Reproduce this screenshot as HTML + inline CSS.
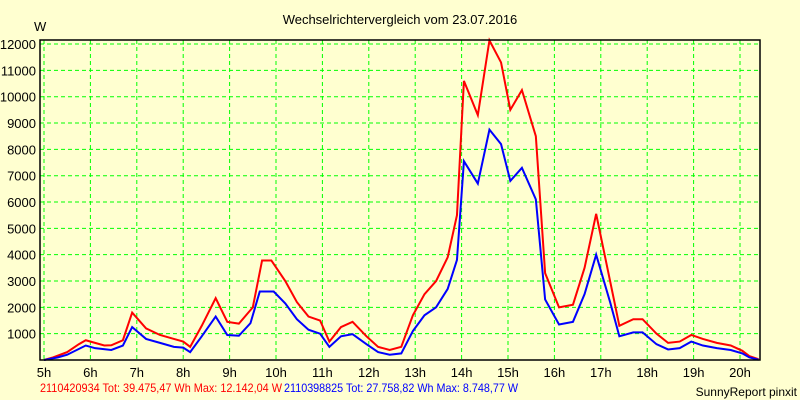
<!DOCTYPE html>
<html><head><meta charset="utf-8"><style>
body{margin:0;background:#ffffd0;}
svg{display:block;font-family:"Liberation Sans",Arial,sans-serif;}
</style></head><body>
<svg id="chart" width="800" height="400">
<rect width="800" height="400" fill="#ffffd0"/>
<text x="400" y="24" text-anchor="middle" font-size="13">Wechselrichtervergleich vom 23.07.2016</text>
<text x="34" y="31" font-size="13">W</text>
<g id="grid"></g><g id="ticks"></g><g id="lines"></g>
<rect x="40" y="40" width="720" height="320" fill="none" stroke="#000" stroke-width="1.5"/>
<text x="40" y="392" font-size="12" fill="#ff0000" textLength="242" lengthAdjust="spacingAndGlyphs">2110420934 Tot: 39.475,47 Wh Max: 12.142,04 W</text>
<text x="284" y="392" font-size="12" fill="#0000ff" textLength="234" lengthAdjust="spacingAndGlyphs">2110398825 Tot: 27.758,82 Wh Max: 8.748,77 W</text>
<text x="797" y="396" text-anchor="end" font-size="12">SunnyReport pinxit</text>
</svg>
<script>
const xHours=[5,6,7,8,9,10,11,12,13,14,15,16,17,18,19,20];
const yTicks=[1000,2000,3000,4000,5000,6000,7000,8000,9000,10000,11000,12000];
const redT=[5,5.2,5.5,5.75,5.9,6.1,6.3,6.45,6.7,6.9,7.2,7.5,7.8,8.0,8.15,8.4,8.7,8.95,9.2,9.5,9.7,9.9,10.2,10.45,10.7,10.95,11.15,11.4,11.65,11.95,12.2,12.45,12.7,12.95,13.2,13.45,13.7,13.9,14.05,14.35,14.6,14.85,15.05,15.3,15.6,15.8,16.1,16.4,16.65,16.9,17.2,17.4,17.7,17.9,18.2,18.45,18.7,18.95,19.2,19.5,19.8,20.05,20.2,20.4];
const redV=[0,100,300,600,750,650,550,560,750,1800,1200,950,800,700,500,1300,2350,1450,1380,2000,3780,3780,3000,2200,1650,1500,700,1250,1450,900,500,380,500,1700,2500,3000,3900,5500,10600,9300,12140,11300,9500,10250,8500,3300,2000,2100,3500,5550,3000,1300,1550,1550,1000,650,700,950,800,650,550,350,150,30];
const blueT=[5,5.3,5.5,5.9,6.1,6.45,6.7,6.9,7.2,7.5,7.8,8.0,8.15,8.4,8.7,8.95,9.2,9.45,9.65,9.95,10.2,10.45,10.7,10.95,11.15,11.4,11.65,11.95,12.2,12.45,12.7,12.95,13.2,13.45,13.7,13.9,14.05,14.35,14.6,14.85,15.05,15.3,15.6,15.8,16.1,16.4,16.65,16.9,17.2,17.4,17.7,17.9,18.2,18.45,18.7,18.95,19.2,19.5,19.8,20.05,20.2,20.4];
const blueV=[0,100,200,550,450,380,550,1250,800,650,500,470,300,900,1650,950,920,1400,2600,2600,2150,1550,1150,1000,500,900,980,600,300,200,250,1100,1700,2000,2700,3800,7550,6700,8750,8200,6800,7300,6100,2300,1350,1450,2500,4000,2200,900,1050,1050,600,400,450,700,550,450,380,250,100,10];
const X=h=>44+(h-5)*46.4, Y=v=>360-v*0.02633;
const NS='http://www.w3.org/2000/svg';
function mk(t,a,p){const e=document.createElementNS(NS,t);for(const k in a)e.setAttribute(k,a[k]);p.appendChild(e);return e;}
const g=document.getElementById('grid'),tk=document.getElementById('ticks'),ln=document.getElementById('lines');
xHours.forEach(h=>{const l=mk('line',{x1:X(h),x2:X(h),y1:40,y2:360,stroke:'#00ff00','stroke-dasharray':'4,3'},g);


const t=mk('text',{x:X(h),y:377,'text-anchor':'middle','font-size':13},tk);t.textContent=h+'h';

});
yTicks.forEach(v=>{const l=mk('line',{x1:40,x2:760,y1:Y(v),y2:Y(v),stroke:'#00ff00','stroke-dasharray':'4,3'},g);


const t=mk('text',{x:36,y:Y(v)+5,'text-anchor':'end','font-size':13},tk);t.textContent=v;

});
function series(T,V,c,n){const p=mk('polyline',{points:T.map((t,i)=>X(t)+','+Y(V[i])).join(' '),fill:'none',stroke:c,'stroke-width':2},ln);

}
series(redT,redV,'#ff0000','series-2110420934-line');
series(blueT,blueV,'#0000ff','series-2110398825-line');
</script>
</body></html>
